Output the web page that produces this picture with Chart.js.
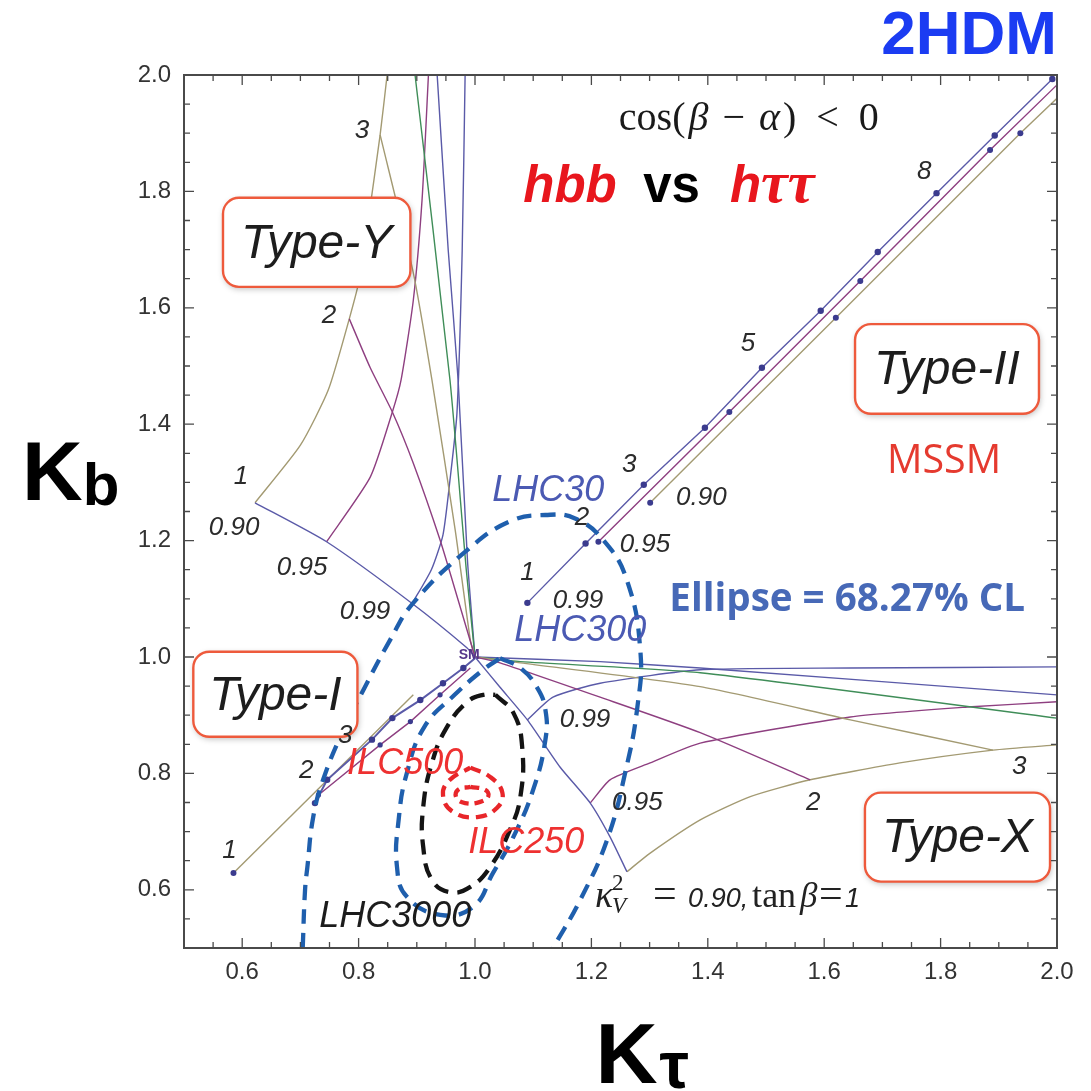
<!DOCTYPE html>
<html>
<head>
<meta charset="utf-8">
<title>2HDM hbb vs htautau</title>
<script src="https://cdn.jsdelivr.net/npm/chart.js@4.4.1/dist/chart.umd.min.js"></script>
<style>
  html, body { margin: 0; padding: 0; background: #fff; }
  #wrap { width: 1091px; height: 1091px; }
</style>
</head>
<body>
<div id="wrap"><canvas id="kappaChart" width="1091" height="1091"></canvas></div>
<script>
// axis ticks
const xTickValues = [0.6, 0.8, 1.0, 1.2, 1.4, 1.6, 1.8, 2.0];
const xTickLabels = ['0.6', '0.8', '1.0', '1.2', '1.4', '1.6', '1.8', '2.0'];
const yTickValues = [0.6, 0.8, 1.0, 1.2, 1.4, 1.6, 1.8, 2.0];
const yTickLabels = ['0.6', '0.8', '1.0', '1.2', '1.4', '1.6', '1.8', '2.0'];

// 68.27% CL ellipses, [kappa_tau, kappa_b]
const lhc30 = [[0.704, 0.50], [0.708, 0.600], [0.712, 0.639], [0.722, 0.725], [0.739, 0.789], [0.774, 0.875],
  [0.808, 0.943], [0.854, 1.029], [0.894, 1.093], [0.987, 1.184], [1.060, 1.233], [1.121, 1.244], [1.172, 1.238],
  [1.222, 1.199], [1.261, 1.132], [1.284, 1.012], [1.279, 0.914], [1.258, 0.801], [1.227, 0.686], [1.181, 0.583], [1.134, 0.50]];
const lhc300 = [[1.043, 0.998], [1.078, 0.981], [1.107, 0.947], [1.121, 0.909], [1.121, 0.858], [1.100, 0.772],
  [1.066, 0.691], [1.031, 0.629], [0.997, 0.571], [0.940, 0.557], [0.883, 0.588], [0.866, 0.639], [0.869, 0.722],
  [0.883, 0.801], [0.913, 0.880], [0.965, 0.935], [1.014, 0.978], [1.043, 0.998]];
const lhc3000 = [[1.035, 0.935], [1.066, 0.904], [1.081, 0.846], [1.078, 0.760], [1.060, 0.703], [1.026, 0.639],
  [0.992, 0.605], [0.957, 0.596], [0.926, 0.617], [0.911, 0.674], [0.911, 0.742], [0.926, 0.818], [0.952, 0.880],
  [0.987, 0.923], [1.014, 0.935], [1.035, 0.935]];
const ilc500 = [[0.992, 0.810], [1.026, 0.794], [1.047, 0.767], [1.038, 0.741], [1.004, 0.725], [0.962, 0.734],
  [0.945, 0.763], [0.957, 0.789], [0.992, 0.810]];
const ilc250 = [[0.992, 0.777], [1.017, 0.772], [1.023, 0.761], [1.009, 0.751], [0.983, 0.749], [0.968, 0.758],
  [0.971, 0.772], [0.992, 0.777]];

// Type-Y: fixed tan(beta) lines and fixed sin(beta-alpha) curves
const yTan1 = [[0.622, 1.265], [0.745, 1.198], [0.892, 1.092], [0.986, 1.016], [1.0, 1.0]];
const yTan2 = [[0.784, 1.581], [0.820, 1.497], [0.858, 1.421], [0.894, 1.333], [0.940, 1.201], [0.971, 1.098], [1.0, 1.0]];
const yTan3 = [[0.837, 1.897], [0.894, 1.660], [0.926, 1.476], [0.966, 1.218], [0.992, 1.029], [1.0, 1.0]];
const yTanG = [[0.897, 2.0], [0.957, 1.476], [0.985, 1.150], [1.0, 1.0]];
const yTanH = [[0.935, 2.0], [0.954, 1.699], [0.971, 1.476], [0.987, 1.167], [1.0, 1.0]];
const yS99 = [[0.892, 1.092], [0.925, 1.150], [0.945, 1.210], [0.957, 1.304], [0.969, 1.419], [0.978, 1.699], [0.983, 2.0]];
const yS95 = [[0.745, 1.198], [0.820, 1.309], [0.858, 1.421], [0.873, 1.476], [0.894, 1.613], [0.909, 1.785], [0.920, 2.0]];
const yS90 = [[0.622, 1.265], [0.700, 1.364], [0.748, 1.459], [0.784, 1.581], [0.803, 1.656], [0.816, 1.746], [0.837, 1.897], [0.849, 2.0]];

// Type-X
const xTan1 = [[1.0, 1.0], [1.043, 0.948], [1.090, 0.892], [1.146, 0.811], [1.198, 0.749], [1.232, 0.691], [1.261, 0.631]];
const xTan2 = [[1.0, 1.0], [1.043, 0.990], [1.215, 0.931], [1.387, 0.870], [1.576, 0.789]];
const xTan3 = [[1.0, 1.0], [1.078, 0.990], [1.387, 0.949], [1.645, 0.892], [1.890, 0.840]];
const xTanG = [[1.0, 1.0], [1.078, 0.992], [1.387, 0.973], [2.0, 0.895]];
const xTanH = [[1.0, 1.0], [1.215, 0.992], [1.387, 0.981], [2.0, 0.935]];
const xS99 = [[1.090, 0.892], [1.134, 0.931], [1.215, 0.955], [1.387, 0.978], [1.645, 0.981], [2.0, 0.983]];
const xS95 = [[1.198, 0.749], [1.232, 0.789], [1.301, 0.818], [1.387, 0.852], [1.645, 0.897], [1.846, 0.914], [2.0, 0.923]];
const xS90 = [[1.261, 0.631], [1.301, 0.663], [1.387, 0.720], [1.473, 0.760], [1.576, 0.789], [1.730, 0.818], [1.890, 0.840], [2.0, 0.849]];

// Type-II (MSSM-like) and Type-I
const iiS99 = [[1.090, 1.093], [1.190, 1.195], [1.290, 1.296], [1.395, 1.394], [1.493, 1.497], [1.594, 1.595],
  [1.692, 1.696], [1.793, 1.797], [1.893, 1.896], [1.992, 1.993]];
const iiS95 = [[1.212, 1.198], [1.437, 1.421], [1.662, 1.646], [1.885, 1.871], [2.0, 1.983]];
const iiS90 = [[1.301, 1.265], [1.620, 1.583], [1.937, 1.900], [2.0, 1.960]];
const iS99 = [[0.725, 0.749], [0.746, 0.789], [0.823, 0.858], [0.858, 0.895], [0.906, 0.926], [0.945, 0.955], [0.980, 0.981], [1.0, 0.998]];
const iS95 = [[0.731, 0.763], [0.837, 0.849], [0.889, 0.889], [0.940, 0.935], [0.992, 0.981]];
const iS90 = [[0.585, 0.629], [0.894, 0.935]];

const BLUE = '#5a5aa8', PURPLE = '#8e3f80', GREEN = '#3f8d58', OLIVE = '#a39a72', DOT = '#3b3b8e';

const pts = arr => arr.map(([x, y]) => ({ x, y }));
function curve(arr, color, extra) {
  return Object.assign({
    data: pts(arr), showLine: true, borderColor: color, borderWidth: 1.4, tension: 0.2,
    pointRadius: 0, pointStyle: 'circle', pointBackgroundColor: DOT, pointBorderColor: DOT,
    pointBorderWidth: 0, fill: false, clip: 0, order: 2
  }, extra || {});
}
function ring(arr, color, dash) {
  return curve(arr, color, { borderWidth: 4.3, borderDash: dash, tension: 0.45, order: 0, borderCapStyle: 'butt' });
}

// annotations placed in data units
const numberNotes = [
  ['3', 0.806, 1.904], ['2', 0.749, 1.586], ['1', 0.598, 1.309], ['0.90', 0.586, 1.222], ['0.95', 0.703, 1.153], ['0.99', 0.811, 1.077],
  ['8', 1.772, 1.833], ['5', 1.469, 1.538], ['3', 1.265, 1.330], ['2', 1.184, 1.239], ['1', 1.090, 1.144],
  ['0.99', 1.177, 1.096], ['0.95', 1.292, 1.193], ['0.90', 1.389, 1.273],
  ['0.99', 1.189, 0.892], ['0.95', 1.279, 0.749], ['2', 1.581, 0.749], ['3', 1.935, 0.811],
  ['1', 0.578, 0.667], ['2', 0.710, 0.804], ['3', 0.777, 0.864]
];
const ellipseNotes = [
  ['LHC30', 1.126, 1.285, '#4b5ab3'], ['LHC300', 1.181, 1.045, '#4b5ab3'], ['LHC3000', 0.863, 0.554, '#1c1c1c'],
  ['ILC500', 0.880, 0.816, '#ee3131'], ['ILC250', 1.088, 0.681, '#ee3131']
];
const typeBoxes = [
  ['Type-Y', 0.567, 1.789, 0.889, 1.636], ['Type-II', 1.653, 1.572, 1.969, 1.418],
  ['Type-I', 0.516, 1.009, 0.798, 0.863], ['Type-X', 1.670, 0.767, 1.988, 0.614]
];

function drawRuns(ctx, parts, x, y, align) {
  let w = 0;
  parts.forEach(p => { ctx.font = p.f; if (!p.hold) w += ctx.measureText(p.t).width + (p.gap || 0); });
  let cx = align === 'center' ? x - w / 2 : x;
  ctx.textAlign = 'left';
  parts.forEach(p => {
    ctx.font = p.f;
    ctx.fillStyle = p.c || '#111';
    const at = p.ox !== undefined ? x + p.ox : cx;
    ctx.fillText(p.t, at, y + (p.dy || 0));
    if (!p.hold) cx += ctx.measureText(p.t).width + (p.gap || 0);
  });
}

// sets the font so that text spans the given width
function fitFont(ctx, text, style, family, width) {
  ctx.font = style + ' 40px ' + family;
  const size = 40 * width / ctx.measureText(text).width;
  ctx.font = style + ' ' + size.toFixed(1) + 'px ' + family;
}

function roundBox(ctx, x0, y0, x1, y1, r) {
  ctx.beginPath();
  ctx.moveTo(x0 + r, y0);
  ctx.arcTo(x1, y0, x1, y1, r);
  ctx.arcTo(x1, y1, x0, y1, r);
  ctx.arcTo(x0, y1, x0, y0, r);
  ctx.arcTo(x0, y0, x1, y0, r);
  ctx.closePath();
}

const overlay = {
  id: 'overlay',
  afterDatasetsDraw(chart) {
    const { ctx, scales: { x, y } } = chart;
    const px = v => x.getPixelForValue(v), py = v => y.getPixelForValue(v);
    const sans = '"Liberation Sans", Arial, sans-serif';
    const serif = '"Liberation Serif", "Times New Roman", serif';
    ctx.save();
    ctx.textBaseline = 'middle';

    // model boxes
    typeBoxes.forEach(([t, x0, y0, x1, y1]) => {
      const a = px(x0), b = py(y0), c = px(x1), d = py(y1);
      ctx.save();
      ctx.shadowColor = 'rgba(0,0,0,0.28)';
      ctx.shadowBlur = 6; ctx.shadowOffsetX = 1; ctx.shadowOffsetY = 2;
      roundBox(ctx, a, b, c, d, 16);
      ctx.fillStyle = '#fff'; ctx.fill();
      ctx.restore();
      roundBox(ctx, a, b, c, d, 16);
      ctx.strokeStyle = '#ee5a3c'; ctx.lineWidth = 2.4; ctx.stroke();
      ctx.font = 'italic 48px ' + sans;
      ctx.fillStyle = '#1d1d1d'; ctx.textAlign = 'center';
      ctx.fillText(t, (a + c) / 2, (b + d) / 2 + 2);
    });

    // parameter labels
    ctx.font = 'italic 26px ' + sans;
    ctx.fillStyle = '#2b2b2b'; ctx.textAlign = 'center';
    numberNotes.forEach(([t, vx, vy]) => ctx.fillText(t, px(vx), py(vy)));

    ctx.font = 'italic 36px ' + sans;
    ellipseNotes.forEach(([t, vx, vy, c]) => { ctx.fillStyle = c; ctx.fillText(t, px(vx), py(vy)); });

    ctx.font = 'bold 14px ' + sans;
    ctx.fillStyle = '#55358a';
    ctx.fillText('SM', px(0.99), py(1.004));

    fitFont(ctx, 'MSSM', 'normal', '"Open Sans", "Liberation Sans", sans-serif', 114);
    ctx.fillStyle = '#e53a2f';
    ctx.fillText('MSSM', px(1.806), py(1.335));

    fitFont(ctx, 'Ellipse = 68.27% CL', 'bold', '"Open Sans", "Liberation Sans", sans-serif', 356);
    ctx.fillStyle = '#4769b7';
    ctx.fillText('Ellipse = 68.27% CL', px(1.6395), py(1.098));

    ctx.textBaseline = 'alphabetic';
    drawRuns(ctx, [
      { t: 'cos(', f: '40px ' + serif, gap: 3 },
      { t: 'β', f: 'italic 40px ' + serif, gap: 14 },
      { t: '−', f: '40px ' + serif, gap: 14 },
      { t: 'α', f: 'italic 40px ' + serif, gap: 3 },
      { t: ')', f: '40px ' + serif, gap: 20 },
      { t: '<', f: '40px ' + serif, gap: 20 },
      { t: '0', f: '40px ' + serif }
    ].map(p => Object.assign({ c: '#1a1a1a' }, p)), px(1.4705), py(1.906), 'center');

    const red = '#e8161d';
    drawRuns(ctx, [{ t: 'hbb', f: 'bold italic 51px ' + sans, c: red }], px(1.083), py(1.782));
    drawRuns(ctx, [{ t: 'vs', f: 'bold 51px ' + sans, c: '#000' }], px(1.289), py(1.782));
    drawRuns(ctx, [
      { t: 'h', f: 'bold italic 51px ' + sans, c: red },
      { t: 'ττ', f: 'bold italic 60px ' + serif, c: red }
    ], px(1.438), py(1.782));

    drawRuns(ctx, [
      { t: 'κ', f: 'italic 38px ' + serif, ox: 0 },
      { t: '2', f: '23px ' + serif, ox: 17, dy: -17 },
      { t: 'V', f: 'italic 23px ' + serif, ox: 17, dy: 6 },
      { t: '=', f: '42px ' + serif, ox: 58 },
      { t: '0.90,', f: 'italic 27px ' + sans, ox: 93 },
      { t: 'tan', f: '36px ' + serif, ox: 157 },
      { t: 'β', f: 'italic 35px ' + serif, ox: 205 },
      { t: '=', f: '42px ' + serif, ox: 224 },
      { t: '1', f: 'italic 27px ' + sans, ox: 250 }
    ].map(p => Object.assign({ c: '#222' }, p)), px(1.2064), py(0.5707));
    ctx.restore();
  },
  afterDraw(chart) {
    const { ctx, chartArea: a, scales: { x, y } } = chart;
    const sans = '"Liberation Sans", Arial, sans-serif';
    ctx.save();
    // frame and inward ticks on all sides
    ctx.strokeStyle = '#4a4a4a';
    ctx.lineWidth = 2;
    ctx.strokeRect(a.left, a.top, a.right - a.left, a.bottom - a.top);
    ctx.lineWidth = 1.3;
    ctx.beginPath();
    for (let i = 11; i < 40; i++) {
      const len = i % 4 === 0 ? 10 : 6;
      const xp = x.getPixelForValue(i / 20), yp = y.getPixelForValue(i / 20);
      ctx.moveTo(xp, a.bottom); ctx.lineTo(xp, a.bottom - len);
      ctx.moveTo(xp, a.top); ctx.lineTo(xp, a.top + len);
      ctx.moveTo(a.left, yp); ctx.lineTo(a.left + len, yp);
      ctx.moveTo(a.right, yp); ctx.lineTo(a.right - len, yp);
    }
    ctx.stroke();

    // axis titles and header
    ctx.textBaseline = 'alphabetic';
    drawRuns(ctx, [
      { t: 'K', f: 'bold 84px ' + sans, c: '#000' },
      { t: 'b', f: 'bold 60px ' + sans, c: '#000', dy: 5 }
    ], a.left - 162, a.top + 425);
    drawRuns(ctx, [
      { t: 'K', f: 'bold 86px ' + sans, c: '#000', gap: 2 },
      { t: 'τ', f: 'bold 66px ' + sans, c: '#000', dy: 5 }
    ], (a.left + a.right) / 2 - 25, a.bottom + 135);
    ctx.font = 'bold 62px ' + sans;
    ctx.fillStyle = '#1b3cf2';
    ctx.textAlign = 'right';
    ctx.fillText('2HDM', a.right, a.top - 21);
    ctx.restore();
  }
};

new Chart(document.getElementById('kappaChart'), {
  type: 'scatter',
  data: {
    datasets: [
      ring(ilc250, '#e8262a', [9, 6]),
      ring(ilc500, '#e8262a', [11, 7]),
      ring(lhc3000, '#141414', [15, 9]),
      ring(lhc300, '#1f5fad', [15, 9]),
      ring(lhc30, '#1f5fad', [15, 9]),
      curve(yTan1, BLUE), curve(yTan2, PURPLE), curve(yTan3, OLIVE), curve(yTanG, GREEN), curve(yTanH, BLUE),
      curve(yS99, BLUE), curve(yS95, PURPLE), curve(yS90, OLIVE),
      curve(xTan1, BLUE), curve(xTan2, PURPLE), curve(xTan3, OLIVE), curve(xTanG, GREEN), curve(xTanH, BLUE),
      curve(xS99, BLUE), curve(xS95, PURPLE), curve(xS90, OLIVE),
      curve(iiS99, BLUE, { pointRadius: 3.2, tension: 0 }),
      curve(iiS95, PURPLE, { pointRadius: [3, 3, 3, 3, 0], tension: 0 }),
      curve(iiS90, OLIVE, { pointRadius: [3, 3, 3, 0], tension: 0 }),
      curve(iS99, BLUE, { pointRadius: [3.2, 3.2, 3.2, 3.2, 3.2, 3.2, 3.2, 0], tension: 0, borderWidth: 2 }),
      curve(iS95, PURPLE, { pointRadius: [2.6, 2.6, 2.6, 2.6, 0], tension: 0 }),
      curve(iS90, OLIVE, { pointRadius: [3, 0], tension: 0 })
    ]
  },
  options: {
    responsive: false,
    animation: false,
    events: [],
    layout: { padding: { top: 75, right: 34, left: 0, bottom: 0 } },
    plugins: { legend: { display: false }, tooltip: { enabled: false } },
    scales: {
      x: {
        type: 'linear', min: 0.5, max: 2.0,
        grid: { display: false, drawTicks: false }, border: { display: false },
        afterBuildTicks: s => { s.ticks = xTickValues.map(v => ({ value: v })); },
        afterFit: s => { s.height = 143; },
        ticks: {
          autoSkip: false, maxRotation: 0, padding: 10, color: '#333',
          font: { family: '"Liberation Sans", Arial, sans-serif', size: 24 },
          callback: v => xTickLabels[xTickValues.indexOf(v)]
        }
      },
      y: {
        type: 'linear', min: 0.5, max: 2.0,
        grid: { display: false, drawTicks: false }, border: { display: false },
        afterBuildTicks: s => { s.ticks = yTickValues.map(v => ({ value: v })); },
        afterFit: s => { s.width = 184; },
        ticks: {
          autoSkip: false, padding: 13, color: '#333',
          font: { family: '"Liberation Sans", Arial, sans-serif', size: 24 },
          callback: v => yTickLabels[yTickValues.indexOf(v)]
        }
      }
    }
  },
  plugins: [overlay]
});
</script>
</body>
</html>
